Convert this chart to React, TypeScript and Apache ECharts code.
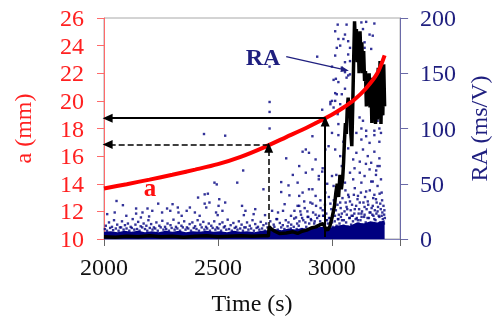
import React, { useEffect, useRef } from "react";
import * as echarts from "echarts";

// Crack length a (mm) vs time (s)
const crackTime = [2000, 2100, 2200, 2300, 2400, 2500, 2600, 2700, 2800, 2900, 3000, 3050, 3100, 3150, 3200, 3232];
const crackLength = [13.65, 13.97, 14.3, 14.65, 15.02, 15.42, 15.95, 16.62, 17.38, 18.15, 19.0, 19.5, 20.1, 20.9, 22.0, 23.3];

// RA (ms/V) running value (black curve)
const raCurve: [number, number][] = [
  [2000, 2], [2050, 1.5], [2100, 2.5], [2150, 2], [2200, 3], [2250, 2], [2300, 2.5], [2350, 1.5], [2400, 2.5],
  [2450, 3], [2500, 2], [2550, 2.5], [2600, 3], [2650, 2.5], [2700, 3], [2722, 3], [2725, 11], [2735, 9],
  [2750, 7], [2770, 5], [2800, 5.5], [2830, 6.5], [2850, 5], [2870, 7], [2890, 8], [2910, 10], [2930, 11],
  [2950, 13], [2962, 14], [2972, 10], [2982, 8], [2992, 12], [3002, 20], [3012, 30], [3018, 42], [3024, 50],
  [3030, 38], [3036, 58], [3042, 45], [3048, 55], [3052, 70], [3056, 90], [3060, 105], [3064, 95], [3068, 118],
  [3072, 128], [3076, 112], [3080, 125], [3084, 95], [3088, 84], [3092, 120], [3096, 160], [3100, 197],
  [3104, 175], [3108, 190], [3112, 160], [3116, 182], [3120, 150], [3124, 188], [3128, 165], [3132, 178],
  [3136, 150], [3140, 170], [3144, 143], [3148, 152], [3152, 120], [3156, 148], [3160, 125], [3164, 150],
  [3168, 119], [3172, 146], [3176, 105], [3180, 140], [3184, 110], [3188, 146], [3192, 104], [3196, 138],
  [3200, 108], [3204, 155], [3208, 120], [3212, 161], [3216, 104], [3220, 150], [3224, 112], [3228, 158],
  [3232, 120],
];

// Upper edge of the solid band of RA hits near zero
const bandTop: [number, number][] = [
  [2000, 6.5], [2030, 7], [2060, 6], [2090, 7.5], [2120, 6.5], [2150, 7.5], [2180, 6], [2210, 7], [2240, 6],
  [2270, 7.5], [2300, 6.5], [2330, 7.5], [2360, 6], [2390, 7], [2420, 6.5], [2450, 7.5], [2480, 6.5], [2510, 7],
  [2540, 6], [2570, 7.5], [2600, 6.5], [2630, 7], [2660, 6], [2690, 7.5], [2720, 8], [2750, 9], [2780, 8],
  [2810, 9.5], [2840, 8.5], [2870, 10], [2900, 9], [2930, 10.5], [2960, 11], [2990, 10], [3020, 12],
  [3050, 13], [3080, 12], [3110, 15], [3140, 14], [3170, 16], [3200, 15], [3232, 17],
];

// Individual RA hits (scatter)
const raBand: [number, number][] = [
  [2004, 9], [2013, 7.5], [2027, 10], [2040, 8], [2052, 9.5], [2064, 7.5], [2075, 10.5], [2086, 8.5], [2099, 9.5],
  [2111, 7.5], [2122, 10], [2133, 8.5], [2145, 9], [2156, 7.5], [2168, 10.5], [2180, 9], [2190, 7.5], [2201, 10],
  [2213, 8.5], [2225, 9.5], [2236, 7.5], [2249, 10.5], [2261, 8.5], [2273, 9], [2285, 7.5], [2297, 10], [2310, 8.5],
  [2322, 9.5], [2334, 7.5], [2346, 10.5], [2358, 8.5], [2370, 9.5], [2382, 7.5], [2394, 10], [2406, 9], [2417, 7.5],
  [2429, 10.5], [2441, 8.5], [2453, 9.5], [2465, 7.5], [2477, 10], [2489, 8.5], [2502, 9.5], [2514, 7.5], [2526, 10.5],
  [2537, 8.5], [2549, 9], [2561, 7.5], [2574, 10], [2586, 8.5], [2598, 9.5], [2610, 7.5], [2622, 10.5], [2634, 8.5],
  [2646, 9.5], [2658, 7.5], [2670, 10], [2682, 8.5], [2694, 9.5], [2706, 7.5], [2718, 10.5], [2733, 9], [2748, 11],
  [2763, 8.5], [2778, 10.5], [2792, 9], [2806, 11.5], [2820, 9.5], [2833, 11], [2846, 9],
];

const raLow: [number, number][] = [
  [2008, 12], [2022, 15], [2035, 11], [2044, 17], [2058, 13], [2070, 10.5], [2079, 16], [2092, 12.5], [2105, 14],
  [2117, 11], [2126, 18], [2138, 13], [2150, 15.5], [2161, 11.5], [2174, 14], [2186, 12], [2195, 17], [2207, 13.5],
  [2219, 10.5], [2230, 15], [2243, 12], [2256, 16.5], [2268, 11], [2279, 14], [2292, 12.5], [2305, 17.5], [2316, 11],
  [2328, 14.5], [2340, 12], [2352, 16], [2364, 10.5], [2376, 13.5], [2388, 15], [2400, 11.5], [2411, 17], [2423, 13],
  [2436, 15.5], [2448, 11], [2460, 14], [2471, 12], [2484, 16], [2496, 10.5], [2508, 13.5], [2520, 15], [2531, 11.5],
  [2543, 17.5], [2556, 12.5], [2568, 14.5], [2580, 11], [2592, 16], [2604, 13], [2616, 10.5], [2628, 15], [2640, 12],
  [2652, 17], [2664, 13.5], [2676, 11], [2688, 15.5], [2700, 12.5], [2712, 14], [2730, 16], [2745, 13], [2760, 18],
  [2772, 14.5], [2785, 12.5], [2798, 17], [2810, 15], [2822, 13], [2835, 18.5], [2848, 14],
  [2858, 16], [2870, 19], [2884, 15], [2897, 20], [2910, 17], [2923, 14], [2936, 19], [2949, 16], [2962, 21],
  [2975, 17], [2988, 19], [3001, 15], [3014, 21], [3027, 18], [3040, 20], [3053, 17], [3066, 22], [3079, 19],
  [3092, 21], [3105, 18], [3118, 23], [3131, 20], [3144, 22], [3157, 19], [3170, 24], [3183, 21], [3196, 23],
  [3209, 20], [3222, 24], [3230, 22],
];

const raLate: [number, number][] = [
  [2855, 12], [2862, 25], [2868, 9], [2875, 17], [2881, 28], [2888, 11], [2894, 20], [2901, 14], [2906, 33],
  [2912, 10], [2918, 24], [2925, 16], [2931, 30], [2938, 12], [2944, 21], [2950, 35], [2955, 13], [2960, 26],
  [2967, 11], [2970, 31], [2976, 23], [2983, 14], [2987, 38], [2993, 19], [2998, 27], [3004, 11], [3009, 35],
  [3013, 16], [3018, 26], [3021, 12], [3025, 31], [3031, 22], [3034, 14], [3039, 28], [3045, 17], [3047, 37],
  [3052, 12], [3056, 25], [3061, 33], [3063, 15], [3068, 27], [3070, 11], [3075, 38], [3077, 19], [3083, 26],
  [3085, 13], [3089, 31], [3093, 16], [3097, 40], [3099, 23], [3103, 12], [3107, 30], [3110, 19], [3113, 36],
  [3117, 14], [3120, 27], [3126, 17], [3128, 42], [3133, 25], [3135, 13], [3139, 33], [3142, 20], [3146, 38],
  [3149, 15], [3153, 27], [3156, 11], [3160, 31], [3163, 19], [3167, 44], [3170, 14], [3175, 28], [3178, 22],
  [3182, 37], [3185, 12], [3189, 26], [3192, 17], [3197, 33], [3199, 13], [3203, 29], [3206, 21], [3210, 41],
  [3212, 15], [3215, 27], [3218, 12], [3221, 35], [3224, 18], [3227, 30], [3229, 14], [3231, 26], [3233, 19],
  [3180, 52], [3195, 62], [3210, 66], [3150, 68], [3100, 64], [3060, 44], [3020, 58], [2980, 50], [2960, 64],
];

const raMid: [number, number][] = [
  [2014, 22.5], [2047, 24], [2055, 34.4], [2083, 30.6], [2098, 21], [2141, 27.6], [2141, 23], [2162, 19.5],
  [2169, 24], [2191, 27.6], [2198, 20.4], [2212, 25.5], [2238, 32], [2255, 24], [2277, 27.6], [2291, 25.5],
  [2301, 31.5], [2324, 28.5], [2327, 24], [2341, 21], [2363, 25.5], [2377, 28.5], [2399, 24], [2413, 37.5],
  [2420, 21], [2442, 40.4], [2449, 28.5], [2495, 49.4], [2585, 51], [2456, 41], [2463, 33], [2442, 32],
  [2506, 36], [2503, 30], [2532, 33], [2492, 24], [2499, 21.6], [2520, 25.5], [2606, 30], [2614, 21.6],
  [2621, 25.5], [2664, 27], [2657, 22.5], [2700, 45], [2707, 21.6], [2778, 51.5], [2810, 48.5], [2778, 42.5],
  [2814, 39.5], [2793, 31.5], [2764, 24], [2786, 25.5], [2836, 25.5], [2850, 30], [2821, 21], [2843, 19.5],
  [2738, 25.5], [2757, 18], [2356, 60], [2485, 51], [2611, 62], [2800, 73], [2829, 58], [2439, 95], [2532, 93.5],
  [2727, 100], [2727, 115], [2727, 124], [2727, 156],
];

const raHigh: [number, number][] = [
  [3026, 194], [3065, 194], [3130, 196], [3151, 196.5], [3187, 195], [3015, 188], [3058, 185], [3137, 190],
  [3166, 185], [3180, 184], [3029, 181], [3051, 181], [3072, 179], [3144, 178], [3022, 173], [3080, 173],
  [3144, 173], [3173, 172], [2936, 165], [3015, 166], [3072, 167], [3058, 160], [3080, 161], [3044, 155],
  [3058, 151], [3072, 148], [3065, 146], [3080, 149], [3018, 145], [3029, 142], [3022, 131], [3015, 125],
  [3037, 122], [3001, 125], [2994, 122], [3008, 119], [3044, 131], [3058, 136], [3122, 110], [3137, 107],
  [3130, 100], [3151, 98], [3201, 107], [3209, 100], [3187, 98], [3223, 113], [3223, 131], [3029, 104],
  [3026, 113], [3037, 175], [3001, 156], [3008, 144], [3015, 132], [2994, 124], [2958, 117], [2929, 105],
  [2915, 93], [2972, 81],
  [3001, 96], [3029, 94], [3051, 88], [3087, 91], [3108, 96], [3130, 90], [3151, 93], [3166, 87], [3187, 94],
  [3209, 88], [3216, 96], [2872, 79], [2900, 78], [2929, 72], [2986, 84], [3015, 81], [3037, 75], [3072, 82],
  [3108, 78], [3137, 81], [3158, 75], [3187, 79], [3209, 73], [3094, 72], [3123, 70], [3173, 69], [3201, 66],
  [2857, 66], [2886, 60], [2915, 63], [2943, 54], [2958, 61], [3001, 57], [3008, 48], [3044, 66], [3058, 51],
  [3080, 60], [3094, 54], [3101, 46], [3123, 60], [3130, 51], [3144, 57], [3151, 43], [3166, 63], [3173, 52],
  [3194, 58], [3201, 48], [3216, 54], [3219, 42], [2850, 51], [2900, 45], [2929, 39], [2972, 42], [2872, 42],
  [3022, 40], [3072, 40], [3115, 39], [3187, 40], [2886, 81], [2943, 57], [2915, 45], [2857, 39],
  [2857, 30], [2879, 34], [2893, 25], [2915, 32], [2929, 22], [2951, 28], [2965, 21], [2994, 32], [3008, 24],
  [3037, 33], [3044, 23], [3065, 29], [3080, 34], [3087, 21], [3101, 27], [3123, 33], [3130, 23], [3144, 29],
  [3158, 34], [3166, 24], [3180, 30], [3194, 36], [3201, 25], [3213, 32], [3219, 21], [2865, 22], [2908, 18],
  [2979, 17], [3029, 18], [3115, 17], [3187, 18],
];

// Reading arrows
const dashedPoint = { t: 2723, a: 16.85 };
const solidPoint = { t: 2971, a: 18.75 };
const raNote = { from: [2800, 165], to: [3058, 153] };

const xTicks = { min: 2000, max: 3300, step: 500 };
const aTicks = { min: 10, max: 26, step: 2 };
const raTicks = { min: 0, max: 200, step: 50 };

const FONT = "'Liberation Serif', 'Times New Roman', serif";
const RED = "#ff2020";
const NAVY = "#1f1f7f";
const DOT = "#000080";

export default function App() {
  const ref = useRef<HTMLDivElement>(null);
  useEffect(() => {
    const chart = echarts.init(ref.current!, null, { renderer: "svg" });
    const option: any = {
      animation: false,
      textStyle: { fontFamily: FONT },
      grid: { left: 104, right: 95, top: 18, bottom: 80, show: true, borderColor: "#a8a8a8", borderWidth: 1 },
      xAxis: {
        type: "value",
        min: xTicks.min,
        max: xTicks.max,
        interval: xTicks.step,
        name: "Time (s)",
        nameLocation: "middle",
        nameGap: 52,
        nameTextStyle: { color: "#111", fontSize: 24, fontFamily: FONT },
        axisLine: { show: true, lineStyle: { color: "#8080b8", width: 1 } },
        axisTick: { show: true, length: 7, lineStyle: { color: "#666" } },
        axisLabel: {
          color: "#111",
          fontSize: 24,
          fontFamily: FONT,
          margin: 16,
          formatter: (v: number) => (v % xTicks.step === 0 ? String(v) : ""),
        },
        splitLine: { show: false },
      },
      yAxis: [
        {
          type: "value",
          min: aTicks.min,
          max: aTicks.max,
          interval: aTicks.step,
          position: "left",
          name: "a (mm)",
          nameLocation: "middle",
          nameRotate: 90,
          nameGap: 69,
          nameTextStyle: { color: RED, fontSize: 24, fontFamily: FONT },
          axisLine: { show: true, lineStyle: { color: "#ff6a6a", width: 1 } },
          axisTick: { show: true, length: 7, lineStyle: { color: "#ff6a6a" } },
          axisLabel: { color: RED, fontSize: 24, fontFamily: FONT, margin: 20 },
          splitLine: { show: false },
        },
        {
          type: "value",
          min: raTicks.min,
          max: raTicks.max,
          interval: raTicks.step,
          position: "right",
          name: "RA (ms/V)",
          nameLocation: "middle",
          nameRotate: 90,
          nameGap: 66,
          nameTextStyle: { color: NAVY, fontSize: 24, fontFamily: FONT },
          axisLine: { show: true, lineStyle: { color: "#6a6aa8", width: 1 } },
          axisTick: { show: true, length: 8, lineStyle: { color: "#6a6aa8" } },
          axisLabel: { color: NAVY, fontSize: 24, fontFamily: FONT, margin: 20 },
          splitLine: { show: false },
        },
      ],
      series: [
        {
          type: "line",
          yAxisIndex: 1,
          data: bandTop,
          symbol: "none",
          lineStyle: { width: 0 },
          areaStyle: { color: DOT, opacity: 1 },
          z: 1,
          silent: true,
        },
        {
          type: "scatter",
          yAxisIndex: 1,
          data: [...raBand, ...raLow, ...raLate, ...raMid, ...raHigh],
          symbol: "rect",
          symbolSize: 2.4,
          itemStyle: { color: DOT },
          z: 2,
          silent: true,
          markLine: {
            silent: true,
            symbol: ["none", "triangle"],
            symbolSize: [6, 8],
            label: { show: false },
            lineStyle: { color: NAVY, width: 1.2, type: "solid" },
            data: [[{ coord: raNote.from }, { coord: raNote.to }]],
          },
        },
        {
          type: "line",
          yAxisIndex: 1,
          data: raCurve,
          symbol: "none",
          lineStyle: { color: "#000", width: 3.5 },
          z: 3,
          silent: true,
        },
        {
          type: "line",
          yAxisIndex: 0,
          data: crackTime.map((t, i) => [t, crackLength[i]]),
          symbol: "none",
          smooth: 0.3,
          lineStyle: { color: "#ff0000", width: 4 },
          z: 4,
          silent: true,
          markLine: {
            silent: true,
            symbol: ["none", "triangle"],
            symbolSize: [9, 10],
            label: { show: false },
            lineStyle: { color: "#000", width: 2, type: "solid" },
            data: [
              [{ coord: [solidPoint.t, solidPoint.a] }, { coord: [2016, solidPoint.a] }],
              [{ coord: [solidPoint.t, 10.15] }, { coord: [solidPoint.t, solidPoint.a - 0.25] }],
              [
                { coord: [dashedPoint.t, dashedPoint.a], lineStyle: { type: "dashed", width: 1.5, color: "#000" } },
                { coord: [2016, dashedPoint.a] },
              ],
              [
                { coord: [dashedPoint.t, 10.15], lineStyle: { type: "dashed", width: 1.5, color: "#000" } },
                { coord: [dashedPoint.t, dashedPoint.a - 0.25] },
              ],
            ],
          },
        },
      ],
      graphic: [
        {
          type: "text",
          x: 263,
          y: 57,
          z: 10,
          style: { text: "RA", fill: NAVY, font: `bold 24px ${FONT}`, align: "center", verticalAlign: "middle" },
        },
        {
          type: "text",
          x: 150,
          y: 187,
          z: 10,
          style: { text: "a", fill: "#ff1010", font: `bold 25px ${FONT}`, align: "center", verticalAlign: "middle" },
        },
      ],
    };
    chart.setOption(option);
    return () => chart.dispose();
  }, []);
  return <div ref={ref} style={{ position: "fixed", left: 0, top: 0, width: 499, height: 320 }} />;
}
